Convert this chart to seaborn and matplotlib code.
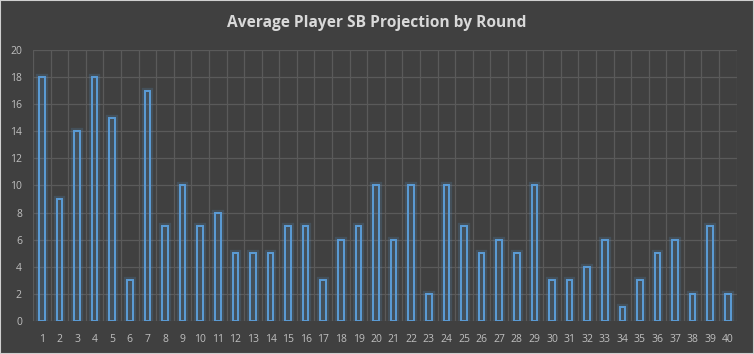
import numpy as np
import pandas as pd
import matplotlib
matplotlib.use("Agg")
import matplotlib.pyplot as plt
import matplotlib.patheffects as pe
import seaborn as sns

rounds = [str(i) for i in range(1, 41)]
sb_proj = [18, 9, 14, 18, 15, 3, 17, 7, 10, 7,
           8, 5, 5, 5, 7, 7, 3, 6, 7, 10,
           6, 10, 2, 10, 7, 5, 6, 5, 10, 3,
           3, 4, 6, 1, 3, 5, 6, 2, 7, 2]

df = pd.DataFrame({"round": rounds, "sb": sb_proj})

bg = "#404040"
grid_c = "#5a5a5a"
txt_c = "#bfbfbf"
bar_c = "#5b9bd5"

sns.set_theme(style="dark")
plt.rcParams["font.family"] = ["Open Sans", "DejaVu Sans"]

fig = plt.figure(figsize=(7.54, 3.54), dpi=100, facecolor=bg)
ax = fig.add_axes([0.0438, 0.0932, 0.977 - 0.0438, 0.8588 - 0.0932])
ax.set_facecolor(bg)

sns.barplot(data=df, x="round", y="sb", width=0.32, fill=False,
            color=bar_c, linewidth=1.3, ax=ax)

for p in ax.patches:
    p.set_edgecolor(bar_c)
    p.set_facecolor("none")
    p.set_path_effects([pe.withStroke(linewidth=4.5, foreground=bar_c, alpha=0.18),
                        pe.Normal()])

ax.set_xlim(-0.5, len(rounds) - 0.5)
ax.set_ylim(0, 20)
ax.set_yticks(range(0, 21, 2))
ax.set_xticks(np.arange(-0.5, len(rounds), 1.0), minor=True)
ax.grid(False)
ax.grid(True, which="major", axis="y", color=grid_c, linewidth=0.9)
ax.grid(True, which="minor", axis="x", color=grid_c, linewidth=0.9)
ax.set_axisbelow(True)

for s in ax.spines.values():
    s.set_visible(False)

ax.tick_params(axis="both", which="both", length=0, colors=txt_c, labelsize=7.5)
ax.tick_params(axis="x", pad=9)
ax.tick_params(axis="y", pad=8)
ax.set_xlabel("")
ax.set_ylabel("")

fig.text(0.5, 0.935, "Average Player SB Projection by Round", ha="center", va="center",
         color="#d9d9d9", fontsize=11.2, fontweight="bold")

fig.patches.append(plt.Rectangle((0, 0), 1, 1, transform=fig.transFigure,
                                 fill=False, edgecolor="#d0d0d0", linewidth=1.5))

fig.savefig("out.png", dpi=100, facecolor=bg)
